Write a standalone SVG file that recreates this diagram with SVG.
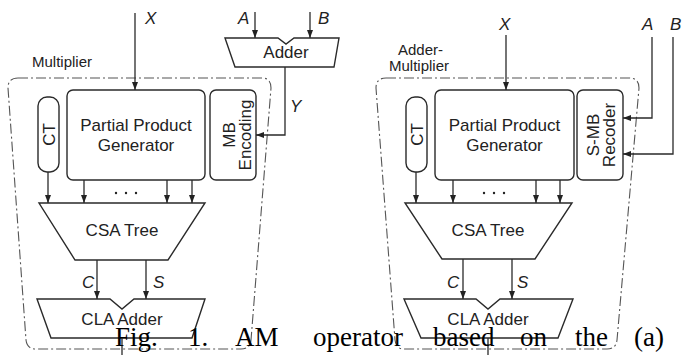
<svg xmlns="http://www.w3.org/2000/svg" width="682" height="355" viewBox="0 0 682 355">
<defs>
<marker id="ah" viewBox="0 0 8 6" refX="8" refY="3" markerWidth="8" markerHeight="6" markerUnits="userSpaceOnUse" orient="auto">
<path d="M0,0 L8,3 L0,6 Z" fill="#222"/>
</marker>
<style>
.blk{fill:#fff;stroke:#2a2a2a;stroke-width:1.4}
.grp{fill:none;stroke:#555;stroke-width:1.1;stroke-dasharray:10 3 2 3}
.t{font-family:"Liberation Sans",Arial,sans-serif;font-size:17px;fill:#222;text-anchor:middle}
.lab{font-family:"Liberation Sans",Arial,sans-serif;font-size:17px;fill:#222;font-style:italic}
.ttl{font-family:"Liberation Sans",Arial,sans-serif;font-size:15px;fill:#222}
.con{fill:none;stroke:#2a2a2a;stroke-width:1.3;marker-end:url(#ah)}
.pl{fill:none;stroke:#2a2a2a;stroke-width:1.3}
.cap{font-family:"Liberation Serif","Times New Roman",serif;font-size:27px;fill:#000}
</style>
</defs>
<rect width="682" height="355" fill="#fff"/>

<!-- Left: Multiplier -->
<g id="multiplier-group">
<path class="grp" d="M18,78 L262,78 Q271,78 271,88 L251,340 Q250,349 241,349 L36,349 Q27,349 26,340 L8,88 Q8,78 18,78 Z"/>
<text class="ttl" x="32" y="67">Multiplier</text>
</g>
<g id="adder-top">
<path class="blk" d="M225,38 L278,38 L286,44 L294,38 L339,38 L334,67 L235,67 Z"/>
<text class="t" x="286" y="58">Adder</text>
</g>
<g id="ct-left">
<rect class="blk" x="38" y="97" width="21" height="75" rx="9"/>
<text class="t" transform="translate(55,134.5) rotate(-90)">CT</text>
</g>
<g id="ppg-left">
<rect class="blk" x="67" y="90" width="138" height="90" rx="6"/>
<text class="t" x="136" y="131">Partial Product</text>
<text class="t" x="136" y="151">Generator</text>
</g>
<g id="mb-encoding">
<rect class="blk" x="210" y="90" width="46" height="90" rx="6"/>
<text class="t" transform="translate(235,135) rotate(-90)">MB</text>
<text class="t" transform="translate(251,135) rotate(-90)">Encoding</text>
</g>
<g id="csa-left">
<path class="blk" d="M39,203 L205,203 L168,260 L75,260 Z"/>
<text class="t" x="122" y="236">CSA Tree</text>
</g>
<g id="cla-left">
<path class="blk" d="M37,299 L110,299 L122,309 L134,299 L205,299 L192,338 L51,338 Z"/>
<text class="t" x="122" y="325">CLA Adder</text>
</g>

<!-- Right: Adder-Multiplier -->
<g id="addermult-group">
<path class="grp" d="M386,78 L629,78 Q639,78 639,88 L617,340 Q616,349 607,349 L404,349 Q396,349 395,340 L376,88 Q376,78 386,78 Z"/>
<text class="ttl" x="398" y="55">Adder-</text>
<text class="ttl" x="389" y="71">Multiplier</text>
</g>
<g id="ct-right">
<rect class="blk" x="406" y="97" width="21" height="75" rx="9"/>
<text class="t" transform="translate(423,134.5) rotate(-90)">CT</text>
</g>
<g id="ppg-right">
<rect class="blk" x="435" y="90" width="139" height="90" rx="6"/>
<text class="t" x="504.5" y="131">Partial Product</text>
<text class="t" x="504.5" y="151">Generator</text>
</g>
<g id="smb-recoder">
<rect class="blk" x="577" y="90" width="46" height="90" rx="6"/>
<text class="t" transform="translate(599,135) rotate(-90)">S-MB</text>
<text class="t" transform="translate(615,135) rotate(-90)">Recoder</text>
</g>
<g id="csa-right">
<path class="blk" d="M405,203 L572,203 L535,259 L442,259 Z"/>
<text class="t" x="488" y="236">CSA Tree</text>
</g>
<g id="cla-right">
<path class="blk" d="M404,299 L476,299 L488,309 L500,299 L573,299 L558,338 L421,338 Z"/>
<text class="t" x="488" y="325">CLA Adder</text>
</g>

<g id="connectors">
<path class="con" d="M135,13 V90"/>
<path class="con" d="M255,12 V38"/>
<path class="con" d="M310,12 V38"/>
<path class="con" d="M285,67 V135 H256"/>
<path class="con" d="M48,172 V203"/>
<path class="con" d="M84,180 V203"/>
<path class="con" d="M167,180 V203"/>
<path class="con" d="M192,180 V203"/>
<path class="con" d="M97,260 V299"/>
<path class="con" d="M146,260 V299"/>
<path class="pl" d="M122,338 V355"/>
<path class="con" d="M506,35 V90"/>
<path class="con" d="M652,37 V118 H623"/>
<path class="con" d="M673,37 V154 H623"/>
<path class="con" d="M416,172 V203"/>
<path class="con" d="M453,180 V203"/>
<path class="con" d="M536,180 V203"/>
<path class="con" d="M560,180 V203"/>
<path class="con" d="M463,259 V299"/>
<path class="con" d="M512,259 V299"/>
<path class="pl" d="M488,338 V355"/>
<g fill="#222">
<circle cx="116" cy="193" r="1.2"/><circle cx="126" cy="193" r="1.2"/><circle cx="136" cy="193" r="1.2"/>
<circle cx="484" cy="193" r="1.2"/><circle cx="494" cy="193" r="1.2"/><circle cx="504" cy="193" r="1.2"/>
</g>
<text class="lab" x="145" y="24">X</text>
<text class="lab" x="238" y="24">A</text>
<text class="lab" x="318" y="24">B</text>
<text class="lab" x="290" y="112">Y</text>
<text class="lab" x="82" y="288">C</text>
<text class="lab" x="153" y="288">S</text>
<text class="lab" x="499" y="30">X</text>
<text class="lab" x="642" y="30">A</text>
<text class="lab" x="670" y="30">B</text>
<text class="lab" x="447" y="288">C</text>
<text class="lab" x="517" y="288">S</text>
</g>

<text class="cap" y="346"><tspan x="115">Fig.</tspan><tspan x="188">1.</tspan><tspan x="235">AM</tspan><tspan x="313">operator</tspan><tspan x="433">based</tspan><tspan x="520">on</tspan><tspan x="575">the</tspan><tspan x="634">(a)</tspan></text>
</svg>
